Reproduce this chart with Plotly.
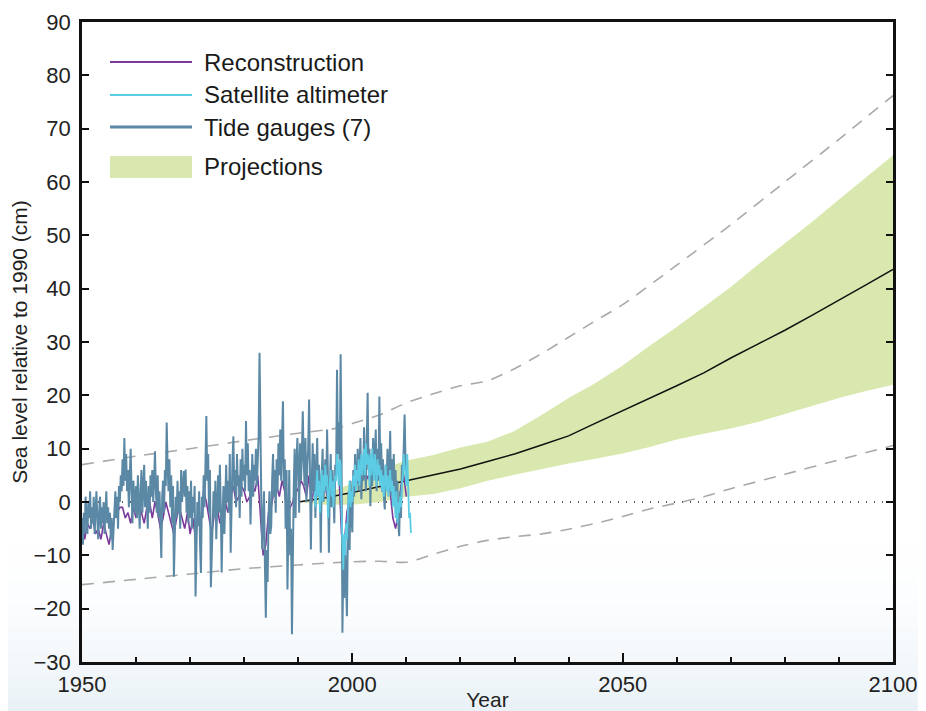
import plotly.graph_objects as go

# ---------------- data ----------------
TG_START = 1950.0
TG_PER_YEAR = 6
tide_gauges = [
    -3, -8, -2, -6, 1, -4,          # 1950
    -6, 0, -3, 2, -5, -1,           # 1951
    -4, 1, -6, -2, 2, -3,           # 1952
    -7, -2, 1, -5, -1, -4,          # 1953
    0, -6, -2, 2, -4, -1,           # 1954
    -5, -2, -7, -3, -9, -4,         # 1955
    -1, 2, -3, 1, -5, 3,            # 1956
    0, 5, 2, 8, 3, 12,              # 1957
    4, 9, 2, 6, -1, 5,              # 1958
    10, 2, -4, 4, 1, -2,            # 1959
    3, -3, 5, 0, -5, 2,             # 1960
    6, -2, 3, 7, -1, 4,             # 1961
    0, -5, 3, -2, 5, 1,             # 1962
    6, 0, 4, 9.5, 2, -2,            # 1963
    5, -3, 2, -6, -10.5, 1,         # 1964
    4, -2, 6, 3, 14.9, 7,           # 1965
    2, 8, -1, 5, -4, 3,             # 1966
    -14, -6, 1, -3, 4, -2,          # 1967
    2, -5, 6, 0, 3, 5.8,            # 1968
    1, 6.1, -2, 3, -4, 2,           # 1969
    -3, 4, -5, 1, -2, 3,            # 1970
    -17.7, -6, 0, -4.5, 2, -8,      # 1971
    -13.3, 1, -3, 5, -1, 7,         # 1972
    16.1, 4, 9, -2, 6, -16,         # 1973
    -9, -5, 2, -3, 4, -7,           # 1974
    1, 5, -2, 7, -1, -13.2,         # 1975
    -3, 3, -6, 2, 7, 0,             # 1976
    4, -2, 9, -9.5, 3, 8,           # 1977
    12.3, 2, 6, -1, 9, 3,           # 1978
    5, -3, 8, 1, 10, 4,             # 1979
    7, 2, 15.2, 5, 11, 2,           # 1980
    6, -4.2, 3, 9, 1, 7,            # 1981
    4, 10, 3, 8, 12.3, 28,          # 1982
    5, 0, -8.9, -3, 2, -12,         # 1983
    -21.7, -9, -15, -3, 2, -6,      # 1984
    -4.5, 4, 9, 1, 6, -2,           # 1985
    8, 2, 11, 5, 13.6, 4,           # 1986
    10, 18.9, 3, 8, -5, 6,          # 1987
    -16.4, -2, 6, -10, -5, -24.8,   # 1988
    -6, 3, 10, -3, 7, 12,           # 1989
    6, -2, 11, 4, 9, 17,            # 1990
    8, 3, 12, 0, 7, 10,             # 1991
    19.2, 5, -8.9, 4, 11, 2,        # 1992
    9, -3, 6, 12, 1, 7,             # 1993
    3, -9.5, 5, 10, 0, 6,           # 1994
    8, 2, 13.6, 4, -9.5, 3,         # 1995
    9, -1, 6, 2, -4, 7,             # 1996
    5, 24.8, 9, 15, 6, 27.7,        # 1997
    10, -24.5, -12, -18, -8, -15,   # 1998
    -21.4, -6, 2, -9, 4, -3,        # 1999
    -5.7, 6, 1, 9, 3, 5.5,          # 2000
    10, 2, 7, 12, 0.5, 6,           # 2001
    4, 14, 8, 2, 11, 20.5,          # 2002
    6, 10, -0.8, 8, 3, 12,          # 2003
    5, 9, 13.6, 2, 10, 4,           # 2004
    19.8, 6, 11, 3, 8, 1,           # 2005
    -1.4, 7, 3, 10, 2, 6,           # 2006
    13.3, 1.2, 8, 3, 9, 0,          # 2007
    6, -2, 4, -4, -6.4, 2,          # 2008
    -3, 7, 4, 10, 16.4, 8,          # 2009
    4,                              # 2010
]

SAT_START = 1993.0
SAT_PER_YEAR = 6
satellite = [
    2, -1, 3, 6, 1, 4,              # 1993
    -2, 3, 6, 0, 5, 2,              # 1994
    7, 3, 5, -3, 2, 4,              # 1995
    6, 1, 4, -1, 3, 5,              # 1996
    4, 9, 6, 3, 8, 7,               # 1997
    -2, -8, -12.7, -6, -10, -4,     # 1998
    -7, -2, 1, 4, -1, 2,            # 1999
    0, 5, 3, 7, 2, 6,               # 2000
    4, 8, 3, 6, 9, 5,               # 2001
    7, 10, 5, 11, 7, 9,             # 2002
    8, 3, 9, 5, 10, 6,              # 2003
    4, 9, 6, 3, 8, 5,               # 2004
    7, 3, 6, 2, 5, 1,               # 2005
    4, 7, 2, 5, 1, 3,               # 2006
    6, 2, 4, -1, 3, 0,              # 2007
    -3, 2, -4, 0, -2, 1,            # 2008
    -1, 3, 5, 9, 7, 4,              # 2009
    3, 9, 1, -3, -2, -5.8,          # 2010
]

REC_START = 1950.0
REC_PER_YEAR = 2
reconstruction = [
    -4, -7, -4, -5, -3, -6, -5, -7, -4, -6,      # 1950-1954
    -8, -5, -3, -2, -1, -1, -3, -2, -4, -1,      # 1955-1959
    -3, 0, -2, -4, -1, 0, -3, 0, -2, -5,         # 1960-1964
    -3, 0, -2, -4, -6, -3, -1, -3, -5, -2,       # 1965-1969
    -6, -3, -7, -2, -4, 2, 0, -3, -6, -2,        # 1970-1974
    -1, -4, -3, 0, -2, 1, 3, 0, 1, 3,            # 1975-1979
    2, 0, 1, 3, 2, 5, -2, -10, -8, -2,           # 1980-1984
    -1, 2, 3, 1, 4, 2, -3, -1, 0, 3,             # 1985-1989
    2, 4, 3, 1, 5, 0, 3, 1, 2, 4,                # 1990-1994
    3, 0, 2, 1, 5, 6, -6, -8, -2, 1,             # 1995-1999
    2, 3, 4, 3, 6, 4, 5, 3, 6, 4,                # 2000-2004
    5, 2, 3, 4, 2, -3, -5, -2, 3, 5,             # 2005-2009
    1,                                            # 2010
]

proj_years = [1990, 1995, 2000, 2005, 2010, 2015, 2020, 2025, 2030, 2035, 2040, 2045,
              2050, 2055, 2060, 2065, 2070, 2075, 2080, 2085, 2090, 2095, 2100]
proj_central = [0, 0.8, 1.8, 2.9, 3.9, 5.0, 6.2, 7.6, 9.0, 10.7, 12.4, 14.8,
                17.1, 19.5, 21.8, 24.2, 27.0, 29.6, 32.2, 35.0, 37.8, 40.7, 43.6]
proj_upper = [0, 1.5, 3.5, 6.0, 7.8, 8.8, 10.2, 11.3, 13.3, 16.3, 19.5, 22.3,
              25.6, 29.3, 32.8, 36.5, 40.3, 44.5, 48.5, 52.5, 56.7, 60.8, 65.0]
proj_lower = [0, -0.5, -0.5, 0, 1.0, 1.5, 2.6, 4.0, 5.1, 6.2, 7.2, 8.1,
              9.1, 10.3, 11.7, 12.8, 13.8, 15.0, 16.5, 18.0, 19.5, 20.8, 22.0]

dash_upper_years = [1950, 1960, 1970, 1980, 1990, 1997, 2000, 2005, 2010, 2015, 2020, 2025,
                    2030, 2035, 2040, 2045, 2050, 2060, 2070, 2080, 2090, 2100]
dash_upper = [7.0, 8.6, 10.0, 11.5, 12.9, 13.8, 14.7, 16.3, 18.6, 20.3, 21.8, 22.7,
              25.0, 27.8, 30.9, 34.0, 37.0, 44.4, 52.0, 60.0, 68.0, 76.2]
dash_lower_years = [1950, 1960, 1970, 1980, 1990, 2000, 2005, 2010, 2015, 2020, 2025,
                    2030, 2035, 2040, 2045, 2050, 2055, 2060, 2065, 2070, 2080, 2090, 2100]
dash_lower = [-15.5, -14.5, -13.5, -12.5, -11.8, -11.2, -11.1, -11.3, -9.8, -8.3, -7.2,
              -6.5, -6.0, -5.1, -4.0, -2.7, -1.3, -0.2, 1.0, 2.5, 5.2, 7.9, 10.6]

zero_years = [1950, 2100]
zero_vals = [0, 0]

x_range = [1950, 2100]
y_range = [-30, 90]
x_label_ticks = [1950, 2000, 2050, 2100]
y_ticks = list(range(-30, 91, 10))

legend_labels = ["Reconstruction", "Satellite altimeter", "Tide gauges (7)", "Projections"]

# ---------------- styles ----------------
C_REC = "#7b3a9b"
C_SAT = "#5ccbe4"
C_TG = "#5b88a5"
C_PROJ = "#d9e8ae"
C_DASH = "#a9a9a9"
FONT = "Liberation Sans, Arial, sans-serif"

OFF = 8                      # page body margin offset of the figure
W, H = 918, 703
ML, MR, MT, MB = 74, 33, 14, 49
PW, PH = W - ML - MR, H - MT - MB


def xp(page_px):
    return (page_px - OFF - ML) / PW


def yp(page_py):
    return (H - MB - (page_py - OFF)) / PH


def series_x(start, per_year, n):
    return [start + i / per_year for i in range(n)]


tg_x = series_x(TG_START, TG_PER_YEAR, len(tide_gauges))
sat_x = series_x(SAT_START, SAT_PER_YEAR, len(satellite))
rec_x = series_x(REC_START, REC_PER_YEAR, len(reconstruction))

fig = go.Figure()

fig.add_trace(go.Scatter(x=zero_years, y=zero_vals, mode="lines",
                         line=dict(color="#222", width=1.5, dash="1px,7px"),
                         hoverinfo="skip", showlegend=False))
fig.add_trace(go.Scatter(x=dash_upper_years, y=dash_upper, mode="lines",
                         line=dict(color=C_DASH, width=1.6, dash="12px,9px", shape="spline",
                                   smoothing=0.6),
                         showlegend=False))
fig.add_trace(go.Scatter(x=dash_lower_years, y=dash_lower, mode="lines",
                         line=dict(color=C_DASH, width=1.6, dash="12px,9px", shape="spline",
                                   smoothing=0.6),
                         showlegend=False))
fig.add_trace(go.Scatter(x=proj_years, y=proj_lower, mode="lines",
                         line=dict(width=0, color=C_PROJ), showlegend=False))
fig.add_trace(go.Scatter(x=proj_years, y=proj_upper, mode="lines", fill="tonexty",
                         fillcolor=C_PROJ, line=dict(width=0, color=C_PROJ),
                         showlegend=False))
fig.add_trace(go.Scatter(x=proj_years, y=proj_central, mode="lines",
                         line=dict(color="#111", width=1.5), showlegend=False))
fig.add_trace(go.Scatter(x=rec_x, y=reconstruction, mode="lines",
                         line=dict(color=C_REC, width=1.6), showlegend=False))
fig.add_trace(go.Scatter(x=tg_x, y=tide_gauges, mode="lines",
                         line=dict(color=C_TG, width=2.0), showlegend=False))
fig.add_trace(go.Scatter(x=sat_x, y=satellite, mode="lines",
                         line=dict(color=C_SAT, width=1.8), showlegend=False))

shapes = []
# soft bluish page gradient at the bottom
n_bands = 14
top_px, bot_px = 545, 711
for i in range(n_bands):
    y0 = top_px + (bot_px - top_px) * i / n_bands
    y1 = top_px + (bot_px - top_px) * (i + 1) / n_bands
    a = 0.02 + 0.5 * ((i + 1) / n_bands) ** 2
    shapes.append(dict(type="rect", xref="paper", yref="paper", layer="below",
                       x0=xp(0), x1=xp(940), y0=yp(y1), y1=yp(y0),
                       fillcolor=f"rgba(214,230,240,{a:.3f})", line=dict(width=0)))

# legend
leg_rows_px = [62, 95, 127]
leg_cols = [C_REC, C_SAT, C_TG]
leg_w = [2.2, 2.2, 2.8]
for ypx, c, lw in zip(leg_rows_px, leg_cols, leg_w):
    shapes.append(dict(type="line", xref="paper", yref="paper",
                       x0=xp(110), x1=xp(192), y0=yp(ypx), y1=yp(ypx),
                       line=dict(color=c, width=lw)))
shapes.append(dict(type="rect", xref="paper", yref="paper",
                   x0=xp(110), x1=xp(192), y0=yp(178), y1=yp(156),
                   fillcolor=C_PROJ, line=dict(width=0)))

annotations = []
for ypx, lab in zip(leg_rows_px + [166], legend_labels):
    annotations.append(dict(xref="paper", yref="paper", x=xp(202), y=yp(ypx),
                            text=lab, showarrow=False, xanchor="left", yanchor="middle",
                            font=dict(family=FONT, size=24, color="#1a1a1a")))

fig.update_layout(
    width=W, height=H,
    margin=dict(l=ML, r=MR, t=MT, b=MB, pad=0, autoexpand=False),
    paper_bgcolor="white", plot_bgcolor="rgba(0,0,0,0)",
    font=dict(family=FONT, size=22, color="#222"),
    shapes=shapes, annotations=annotations,
    showlegend=False,
    xaxis=dict(range=x_range, tickvals=x_label_ticks, ticks="inside", ticklen=9,
               tickwidth=1.5, tickcolor="#111", ticklabelstandoff=1, automargin=False,
               minor=dict(dtick=10, ticks="inside", ticklen=5, tickwidth=1.5, tickcolor="#111"),
               showline=True, linewidth=2.5, linecolor="#111", mirror=True,
               showgrid=False, zeroline=False,
               tickfont=dict(size=22, color="#222"),
               title=dict(text="Year", standoff=0, font=dict(size=21, color="#222"))),
    xaxis2=dict(range=x_range, overlaying="x", side="top", tickvals=x_label_ticks,
                ticks="inside", ticklen=7, tickwidth=1.5, tickcolor="#111", automargin=False,
                showticklabels=False, showgrid=False, zeroline=False, showline=False),
    yaxis=dict(range=y_range, tickvals=y_ticks, ticks="inside", ticklen=7,
               tickwidth=1.5, tickcolor="#111", ticklabelstandoff=4, automargin=False,
               showline=True, linewidth=2.5, linecolor="#111", mirror="ticks",
               showgrid=False, zeroline=False,
               tickfont=dict(size=22, color="#222"),
               title=dict(text="Sea level relative to 1990 (cm)", standoff=4,
                          font=dict(size=21, color="#222"))),
)

fig.write_html("out.html")
